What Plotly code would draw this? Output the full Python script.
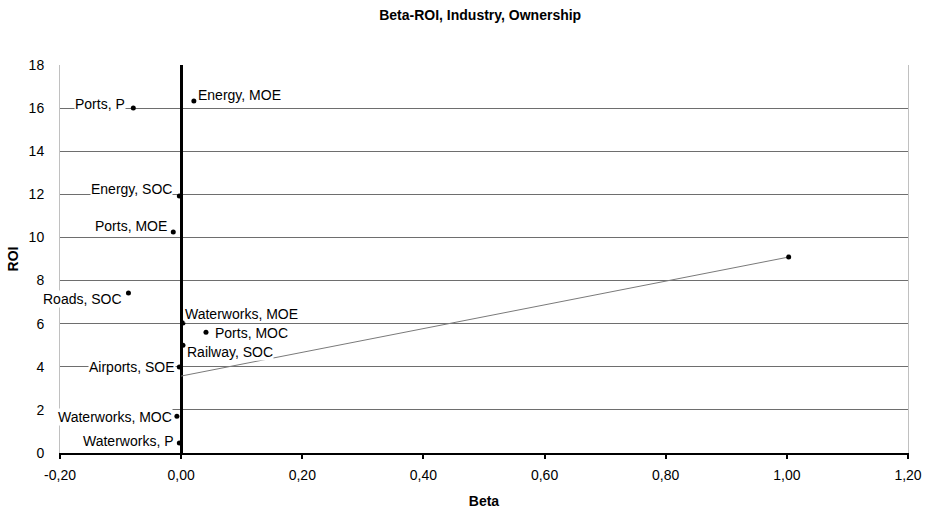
import plotly.graph_objects as go

labels = ["Ports, P", "Energy, MOE", "Energy, SOC", "Ports, MOE", "Roads, SOC",
          "Waterworks, MOE", "Ports, MOC", "Railway, SOC", "Airports, SOE",
          "Waterworks, MOC", "Waterworks, P"]
beta = [-0.079, 0.021, -0.003, -0.013, -0.087, 0.003, 0.041, 0.003, -0.003, -0.007, -0.003]
roi = [16.0, 16.33, 11.92, 10.25, 7.42, 6.03, 5.6, 5.0, 3.99, 1.7, 0.46]

extra_beta = [1.003]
extra_roi = [9.09]

trend_beta = [0.0, 1.003]
trend_roi = [3.57, 9.09]

x_tickvals = [-0.2, 0.0, 0.2, 0.4, 0.6, 0.8, 1.0, 1.2]
x_ticktext = ["-0,20", "0,00", "0,20", "0,40", "0,60", "0,80", "1,00", "1,20"]
y_tickvals = [0, 2, 4, 6, 8, 10, 12, 14, 16, 18]

# label placement: (xanchor, xshift, yshift)
placement = {
    "Ports, P": ("right", -7, 4),
    "Energy, MOE": ("left", 3, 6),
    "Energy, SOC": ("right", -6, 7),
    "Ports, MOE": ("right", -5, 6),
    "Roads, SOC": ("right", -5, -6),
    "Waterworks, MOE": ("left", 1, 9),
    "Ports, MOC": ("left", 8, -1),
    "Railway, SOC": ("left", 3, -7),
    "Airports, SOE": ("right", -3, 0),
    "Waterworks, MOC": ("right", -4, -1),
    "Waterworks, P": ("right", -4, 2),
}

font = "Liberation Sans, Arial, sans-serif"
FS = 14

fig = go.Figure()
fig.add_trace(go.Scatter(x=trend_beta, y=trend_roi, mode="lines",
                         line=dict(color="#7a7a7a", width=1), hoverinfo="skip"))
fig.add_trace(go.Scatter(x=beta + extra_beta, y=roi + extra_roi, mode="markers",
                         marker=dict(color="black", size=5)))

for lab, bx, ry in zip(labels, beta, roi):
    xa, xs, ys = placement[lab]
    fig.add_annotation(x=bx, y=ry, text=lab, showarrow=False, xanchor=xa,
                       yanchor="middle", xshift=xs, yshift=ys, bgcolor="white",
                       borderpad=0, font=dict(family=font, size=FS, color="black"))

fig.update_layout(
    width=927, height=509,
    margin=dict(l=60, r=19, t=65, b=56),
    paper_bgcolor="white", plot_bgcolor="white",
    showlegend=False,
    title=dict(text="<b>Beta-ROI, Industry, Ownership</b>", x=0.518, xanchor="center",
               yref="container", y=0.9705, yanchor="middle",
               font=dict(family=font, size=FS, color="black")),
    font=dict(family=font, size=FS, color="black"),
)
fig.update_xaxes(range=[-0.2, 1.2], tickvals=x_tickvals, ticktext=x_ticktext,
                 automargin=False,
                 showgrid=False, zeroline=True, zerolinecolor="black", zerolinewidth=2.5,
                 showline=True, linecolor="black", linewidth=2, mirror=False,
                 ticks="outside", ticklen=4, tickwidth=1.5, tickcolor="black",
                 ticklabelstandoff=4,
                 title=dict(text="<b>Beta</b>", standoff=19, font=dict(size=FS)),
                 tickfont=dict(size=FS))
fig.update_yaxes(range=[0, 18], tickvals=y_tickvals, showgrid=True,
                 gridcolor="#6e6e6e", gridwidth=1.4, automargin=False,
                 zeroline=False, showline=True, linecolor="#c0c0c0", linewidth=1, mirror=True,
                 ticks="", ticklabelstandoff=12,
                 title=dict(text="<b>ROI</b>", standoff=6, font=dict(size=FS)),
                 tickfont=dict(size=FS))

fig.write_html("out.html",
               config={"displayModeBar": False},
               post_script="document.body.style.margin='0';document.body.style.overflow='hidden';")
